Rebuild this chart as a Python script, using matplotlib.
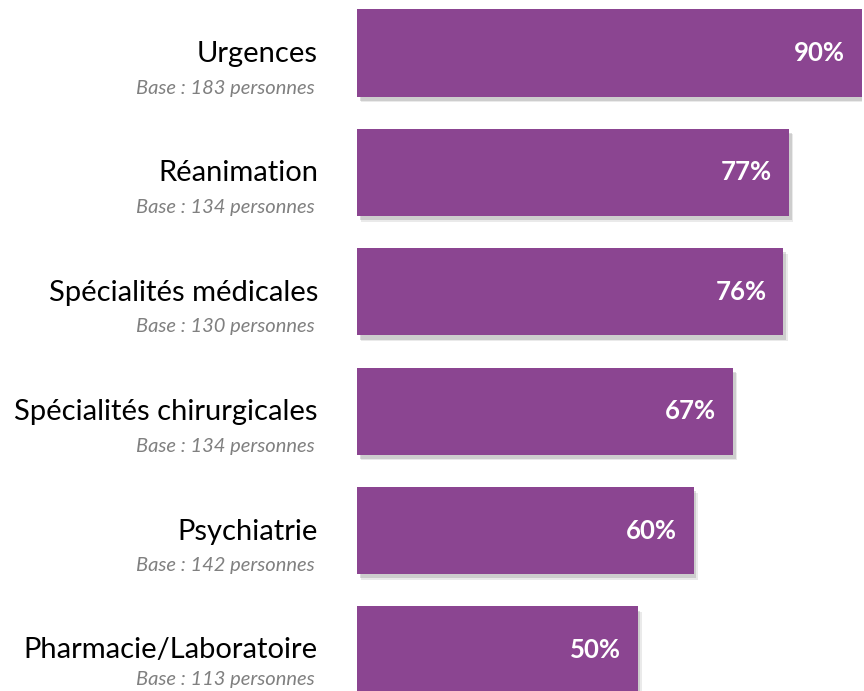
import matplotlib
matplotlib.use('Agg')
import matplotlib.pyplot as plt
import matplotlib.patheffects as pe

plt.rcParams['font.family'] = ['Lato', 'DejaVu Sans']

# data
categories = ['Urgences', 'Réanimation', 'Spécialités médicales',
              'Spécialités chirurgicales', 'Psychiatrie', 'Pharmacie/Laboratoire']
bases = [183, 134, 130, 134, 142, 113]
values = [90, 77, 76, 67, 60, 50]

BAR_COLOR = '#8B4591'

fig = plt.figure(figsize=(8.64, 6.91), dpi=100)
ax = fig.add_axes([357 / 864, 0, 505 / 864, 1])

ypos = list(range(len(categories)))
bars = ax.barh(ypos, values, height=0.73, color=BAR_COLOR)
for b in bars:
    # soft drop shadow, roughly like the office-style one
    b.set_path_effects([pe.SimplePatchShadow(offset=(3, -4), shadow_rgbFace='#777777', alpha=0.15),
                        pe.SimplePatchShadow(offset=(2, -3), shadow_rgbFace='#777777', alpha=0.25),
                        pe.Normal()])

last = len(categories) - 1
for i, (cat, base, val) in enumerate(zip(categories, bases, values)):
    # last row is squeezed at the bottom edge, like in the original
    dy_main = 0 if i == last else -1
    dy_base = -29 if i == last else -35
    ax.annotate(cat, xy=(0, i), xytext=(-39, dy_main), textcoords='offset pixels',
                ha='right', va='center', fontsize=21, color='black')
    ax.annotate(f'Base : {base} personnes', xy=(0, i), xytext=(-42, dy_base),
                textcoords='offset pixels', ha='right', va='center',
                fontsize=14.5, style='italic', color='#808080')
    ax.annotate(f'{val}%', xy=(val, i), xytext=(-17, 0), textcoords='offset pixels',
                ha='right', va='center', fontsize=18.5, fontweight='bold', color='white')

ax.set_xlim(0, 90)
ax.set_ylim(5.343, -0.444)
ax.axis('off')

fig.savefig('out.png', dpi=100)
